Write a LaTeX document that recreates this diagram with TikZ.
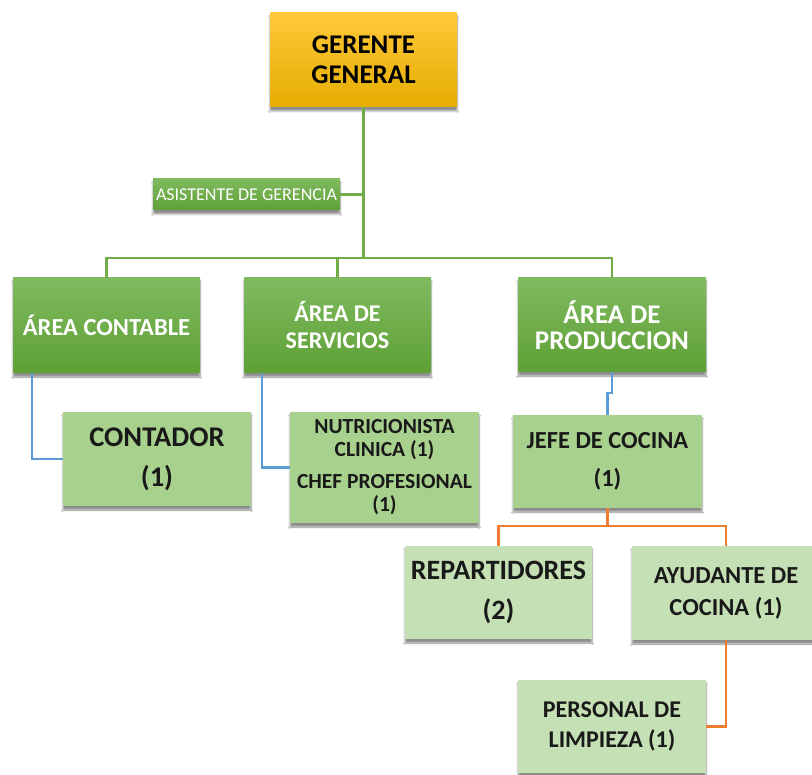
\documentclass[tikz,border=0pt]{standalone}
\usepackage{fontspec}
\setmainfont{Carlito}
\usetikzlibrary{shadows.blur,calc}
\definecolor{gold1}{HTML}{FFC83A}
\definecolor{gold2}{HTML}{E5AD00}
\definecolor{dg1}{HTML}{80BA60}
\definecolor{dg2}{HTML}{5EA035}
\definecolor{lg}{HTML}{A9D18E}
\definecolor{llg}{HTML}{C5E0B4}
\definecolor{gline}{HTML}{70AD47}
\definecolor{bline}{HTML}{5B9BD5}
\definecolor{oline}{HTML}{ED7D31}
\tikzset{
  boxbase/.style={inner sep=0pt, align=center, font=\bfseries,
    blur shadow={shadow xshift=0pt, shadow yshift=-4pt, shadow blur steps=6, shadow opacity=45}},
  goldbox/.style={boxbase, top color=gold1, bottom color=gold2, text=black},
  darkbox/.style={boxbase, top color=dg1, bottom color=dg2, text=white},
  lightbox/.style={boxbase, fill=lg, text=black!90},
  paleb/.style={boxbase, fill=llg, text=black!90},
  gconn/.style={draw=gline, line width=2.8pt},
  bconn/.style={draw=bline, line width=2.3pt},
  oconn/.style={draw=oline, line width=2.8pt},
}
\begin{document}
\begin{tikzpicture}[x=1pt,y=-1pt]
\useasboundingbox (0,0) rectangle (812,775);
\fill[white] (0,0) rectangle (812,775);
\coordinate (hub) at (363.5,258);
\coordinate (ob) at (607.5,526);
% boxes
\node[goldbox, minimum width=187pt, minimum height=94pt, font=\bfseries\fontsize{27}{30}\selectfont] (gg) at (363.5,60) {GERENTE\\GENERAL};
\node[darkbox, minimum width=187pt, minimum height=31pt, font=\fontsize{18}{20}\selectfont] (asis) at (246.5,194.5) {ASISTENTE DE GERENCIA};
\node[darkbox, minimum width=187pt, minimum height=95pt, font=\bfseries\fontsize{24.5}{27}\selectfont] (ac) at (106.5,325.5) {ÁREA CONTABLE};
\node[darkbox, minimum width=187pt, minimum height=95pt, font=\bfseries\fontsize{24}{27}\selectfont] (as) at (337.5,325.5) {ÁREA DE\\SERVICIOS};
\node[darkbox, minimum width=188pt, minimum height=94pt, font=\bfseries\fontsize{27}{26}\selectfont] (ap) at (612,325) {ÁREA DE\\PRODUCCION};
\node[lightbox, minimum width=188pt, minimum height=94pt, font=\bfseries\fontsize{28.5}{40}\selectfont] (cont) at (157,459) {CONTADOR\\(1)};
\node[lightbox, minimum width=189pt, minimum height=111pt, font=\bfseries\fontsize{21.5}{23}\selectfont] (nut) at (384.5,467.5) {NUTRICIONISTA\\CLINICA (1)\\[9pt]CHEF PROFESIONAL\\(1)};
\node[lightbox, minimum width=189pt, minimum height=93pt, font=\bfseries\fontsize{24.5}{38}\selectfont] (jefe) at (607.5,461.5) {JEFE DE COCINA\\(1)};
\node[paleb, minimum width=187pt, minimum height=93pt, font=\bfseries\fontsize{28}{40}\selectfont] (rep) at (498.5,592.5) {REPARTIDORES\\(2)};
\node[paleb, minimum width=188pt, minimum height=94pt, font=\bfseries\fontsize{24.5}{32}\selectfont] (ayu) at (726,593) {AYUDANTE DE\\COCINA (1)};
\node[paleb, minimum width=188pt, minimum height=93pt, font=\bfseries\fontsize{24}{30}\selectfont] (per) at (612,726.5) {PERSONAL DE\\LIMPIEZA (1)};
% green connectors
\draw[gconn] (gg.south) -- (hub);
\draw[gconn] (asis.east) -- (asis.east -| hub);
\draw[gconn] (ac.north) |- (hub) -| (ap.north);
\draw[gconn] (as.north) -- (as.north |- hub);
% blue connectors
\draw[bconn] ($(ac.south west)+(19,0)$) |- (cont.west);
\draw[bconn] ($(as.south west)+(18,0)$) |- (nut.west);
\draw[bconn] (ap.south) -- ++(0,21) -| (jefe.north);
% orange connectors
\draw[oconn] (jefe.south) -- (ob);
\draw[oconn] (rep.north) |- (ob) -| (ayu.north);
\draw[oconn] (ayu.south) |- (per.east);
\end{tikzpicture}
\end{document}
